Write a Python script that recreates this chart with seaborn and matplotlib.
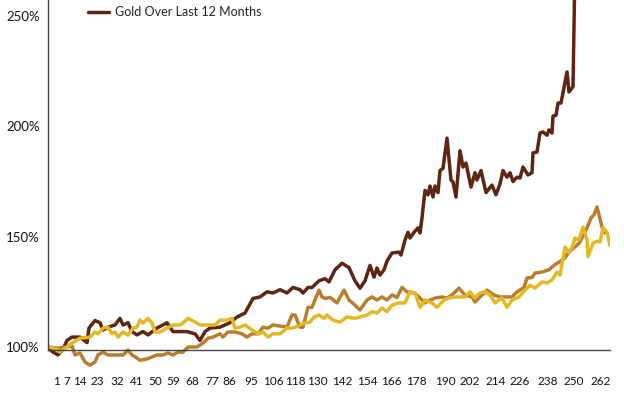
import pandas as pd
import numpy as np
import matplotlib
matplotlib.use("Agg")
import matplotlib.pyplot as plt
import seaborn as sns

# positions along the category axis (0 = first period)
gold_pos = [0, 4, 10, 15, 19, 24, 32, 39, 41, 47, 52, 55, 60, 67, 72, 75, 80, 84, 89, 95, 100,
            109, 119, 125, 139, 147, 152, 157, 162, 172, 182, 189, 197, 205, 212, 219, 225, 232,
            239, 245, 252, 255, 260, 264, 271, 277, 281, 287, 294, 301, 307, 312, 317, 322, 326,
            329, 332, 336, 339, 344, 351, 353, 357, 360, 362, 366, 370, 372, 374, 377, 380, 382,
            385, 387, 390, 392, 395, 399, 403, 405, 408, 412, 415, 418, 423, 427, 429, 433, 438,
            444, 448, 452, 455, 459, 462, 465, 469, 472, 475, 480, 484, 485, 489, 492, 495, 499,
            501, 504, 505, 508, 510, 513, 519, 521, 525, 528]
gold_val = [100, 98, 96.4, 99, 103, 104.5, 104.5, 102, 108.6, 112, 111, 107.7, 109, 110, 113, 110,
            111, 107, 105.5, 107, 105.5, 108.6, 111, 107, 107, 106, 103, 107, 108.6, 109, 111, 113.6,
            115.4, 122, 122.7, 125, 124.5, 126, 124.5, 127, 126, 124.5, 127, 127, 130, 131, 129.5,
            135, 138, 136, 130, 126.7, 130, 137, 131.7, 135.8, 132.6, 135, 139, 142.6, 143, 141.7,
            148.5, 152, 149.4, 152, 154, 151.7, 158.5, 171, 169, 173, 168, 173, 170, 180, 181,
            194.7, 175.7, 174.8, 168, 189, 181.6, 183.4, 172.5, 179, 175.7, 180, 170, 173.4, 169,
            174, 180, 177, 179, 175, 177, 176.6, 181.6, 178, 179, 188, 188.4, 197, 197.5, 196,
            198.4, 197, 204.7, 205, 210.6, 210.6, 224.7, 215.6, 218, 300]

mid_pos = [0, 10, 19, 24, 27, 32, 37, 42, 47, 50, 55, 60, 65, 75, 80, 84, 89, 92, 99, 104, 109,
           115, 120, 125, 130, 135, 140, 149, 155, 160, 165, 172, 175, 180, 187, 194, 199, 204,
           210, 215, 220, 225, 232, 239, 244, 247, 252, 255, 260, 264, 271, 274, 277, 282, 289,
           296, 301, 307, 312, 319, 324, 329, 334, 339, 344, 349, 354, 359, 366, 371, 377, 382,
           387, 394, 399, 404, 411, 417, 424, 427, 432, 439, 446, 452, 464, 469, 476, 479, 484,
           487, 494, 501, 506, 511, 516, 521, 526, 531, 534, 539, 543, 546, 549, 554, 557]
mid_val = [100, 99.5, 100, 100.5, 96.4, 97.3, 93.2, 91.8, 93.2, 96.4, 97.7, 96.4, 96.4, 96.4,
           98.6, 96.4, 95, 94, 94.6, 95.5, 96.4, 96.4, 97.3, 96.4, 97.7, 97.7, 100, 100, 101.8,
           104, 104.5, 106, 104.5, 106.8, 106.8, 106, 104.5, 106, 106, 109, 108.6, 110, 109.5,
           109, 114.5, 114.5, 109, 109, 118, 118, 125.8, 122.7, 122, 122.5, 120, 125.8, 121.3,
           119, 116.8, 121.3, 122.7, 121.3, 122.7, 121.3, 123.6, 122.5, 127, 125, 124.5, 122.7,
           120, 121.3, 122.2, 122.7, 122.2, 123.6, 126.7, 123.6, 122.7, 120.4, 122.7, 125.8,
           123.6, 122.7, 122.7, 125, 127, 131.3, 131.5, 133.5, 134, 135, 137, 138.5, 140, 143,
           145, 147, 149.4, 154, 158.5, 160, 163.5, 154.4, 151.7]

yel_pos = [0, 7, 12, 19, 24, 32, 42, 47, 50, 55, 60, 64, 67, 70, 75, 80, 85, 89, 92, 95, 100,
           104, 107, 112, 119, 125, 132, 135, 140, 147, 152, 159, 167, 172, 179, 184, 187, 192,
           197, 204, 210, 215, 220, 225, 232, 239, 245, 252, 258, 262, 266, 271, 276, 279, 285,
           292, 299, 307, 319, 324, 329, 334, 339, 344, 351, 357, 362, 367, 372, 377, 384, 389,
           396, 401, 407, 417, 422, 427, 432, 437, 442, 447, 454, 459, 464, 471, 477, 482, 487,
           494, 499, 504, 509, 512, 517, 521, 524, 527, 531, 535, 539, 540, 545, 549, 552, 555,
           559, 562]
yel_val = [100, 99.5, 97.7, 100, 101.8, 104, 104.5, 106.8, 106, 108.6, 109, 106, 106.8, 104.5,
           106.8, 105.4, 108.6, 109, 112.2, 110.9, 113, 110.9, 106.8, 106.8, 108.6, 110, 110,
           110.9, 113, 111.3, 110, 110, 110, 112.2, 112.2, 113, 108.6, 109, 110, 107.7, 106,
           106.8, 104.5, 106, 106, 108.6, 108.6, 110, 111, 111.3, 113.6, 114.5, 113, 114.5,
           112.2, 111.3, 113.6, 113, 114.5, 116, 115.4, 117.7, 116, 119, 120, 120, 125, 124.5,
           118, 121.3, 120, 118, 121.3, 122.2, 122.7, 122.7, 125, 122.2, 124.5, 125, 123.6, 120,
           122.2, 118, 121.3, 122.7, 125.8, 128, 126.7, 129.5, 129, 130.4, 134, 132.6, 145.3,
           143, 144.9, 149.4, 148.5, 154.4, 148.5, 141, 147, 148, 147.6, 154, 152, 146]

tick_pos = [9, 19, 32, 49, 69, 89, 107, 125, 144, 164, 181, 203, 225, 247, 269, 294, 319, 343,
            368, 397, 422, 448, 472, 500, 526, 553]
tick_labels = ["1", "7", "14", "23", "32", "41", "50", "59", "68", "77", "86", "95", "106",
               "118", "130", "142", "154", "166", "178", "190", "202", "214", "226", "238",
               "250", "262"]
y_ticks = [100, 150, 200, 250]

sns.set_style("white")
plt.rcParams["font.family"] = ["Lato", "DejaVu Sans"]

c_dark = "#5E2512"
c_mid = "#B87D2D"
c_yel = "#E4B823"

fig = plt.figure(figsize=(6.24, 3.96), dpi=100)
ax = fig.add_axes([48 / 624, 1 - 373.5 / 396, 562 / 624, 373.5 / 396])

df_gold = pd.DataFrame({"pos": gold_pos, "val": gold_val})
df_mid = pd.DataFrame({"pos": mid_pos, "val": mid_val})
df_yel = pd.DataFrame({"pos": yel_pos, "val": yel_val})

sns.lineplot(data=df_gold, x="pos", y="val", color=c_dark, linewidth=2.5, sort=False, ax=ax,
             label="Gold Over Last 12 Months")
sns.lineplot(data=df_mid, x="pos", y="val", color=c_mid, linewidth=2.5, sort=False, ax=ax)
sns.lineplot(data=df_yel, x="pos", y="val", color=c_yel, linewidth=2.5, sort=False, ax=ax)

ax.set_xlim(0, 562)
ax.set_ylim(88, 257.3)
ax.set_xlabel("")
ax.set_ylabel("")

for s in ["top", "right"]:
    ax.spines[s].set_visible(False)
ax.spines["bottom"].set_position(("data", 98.6))
ax.spines["left"].set_bounds(98.6, 257.3)
for s in ["bottom", "left"]:
    ax.spines[s].set_color("#444444")
    ax.spines[s].set_linewidth(1.0)

ax.set_xticks(tick_pos)
ax.set_xticklabels(tick_labels)
ax.set_yticks(y_ticks)
ax.set_yticklabels([f"{v}%" for v in y_ticks])
ax.tick_params(axis="x", length=3.5, width=0.8, color="#444444", pad=15, labelsize=8.5,
               labelcolor="#111111")
ax.tick_params(axis="y", length=3.5, width=0.8, color="#444444", pad=2.5, labelsize=9.5,
               labelcolor="#111111")

leg = ax.legend(loc="center left", bbox_to_anchor=(40 / 562, 1 - 12 / 373.5), frameon=False,
                fontsize=9, handlelength=1.7, handletextpad=0.45, borderaxespad=0,
                borderpad=0)
for line in leg.get_lines():
    line.set_linewidth(2.5)

fig.savefig("out.png", dpi=100)
